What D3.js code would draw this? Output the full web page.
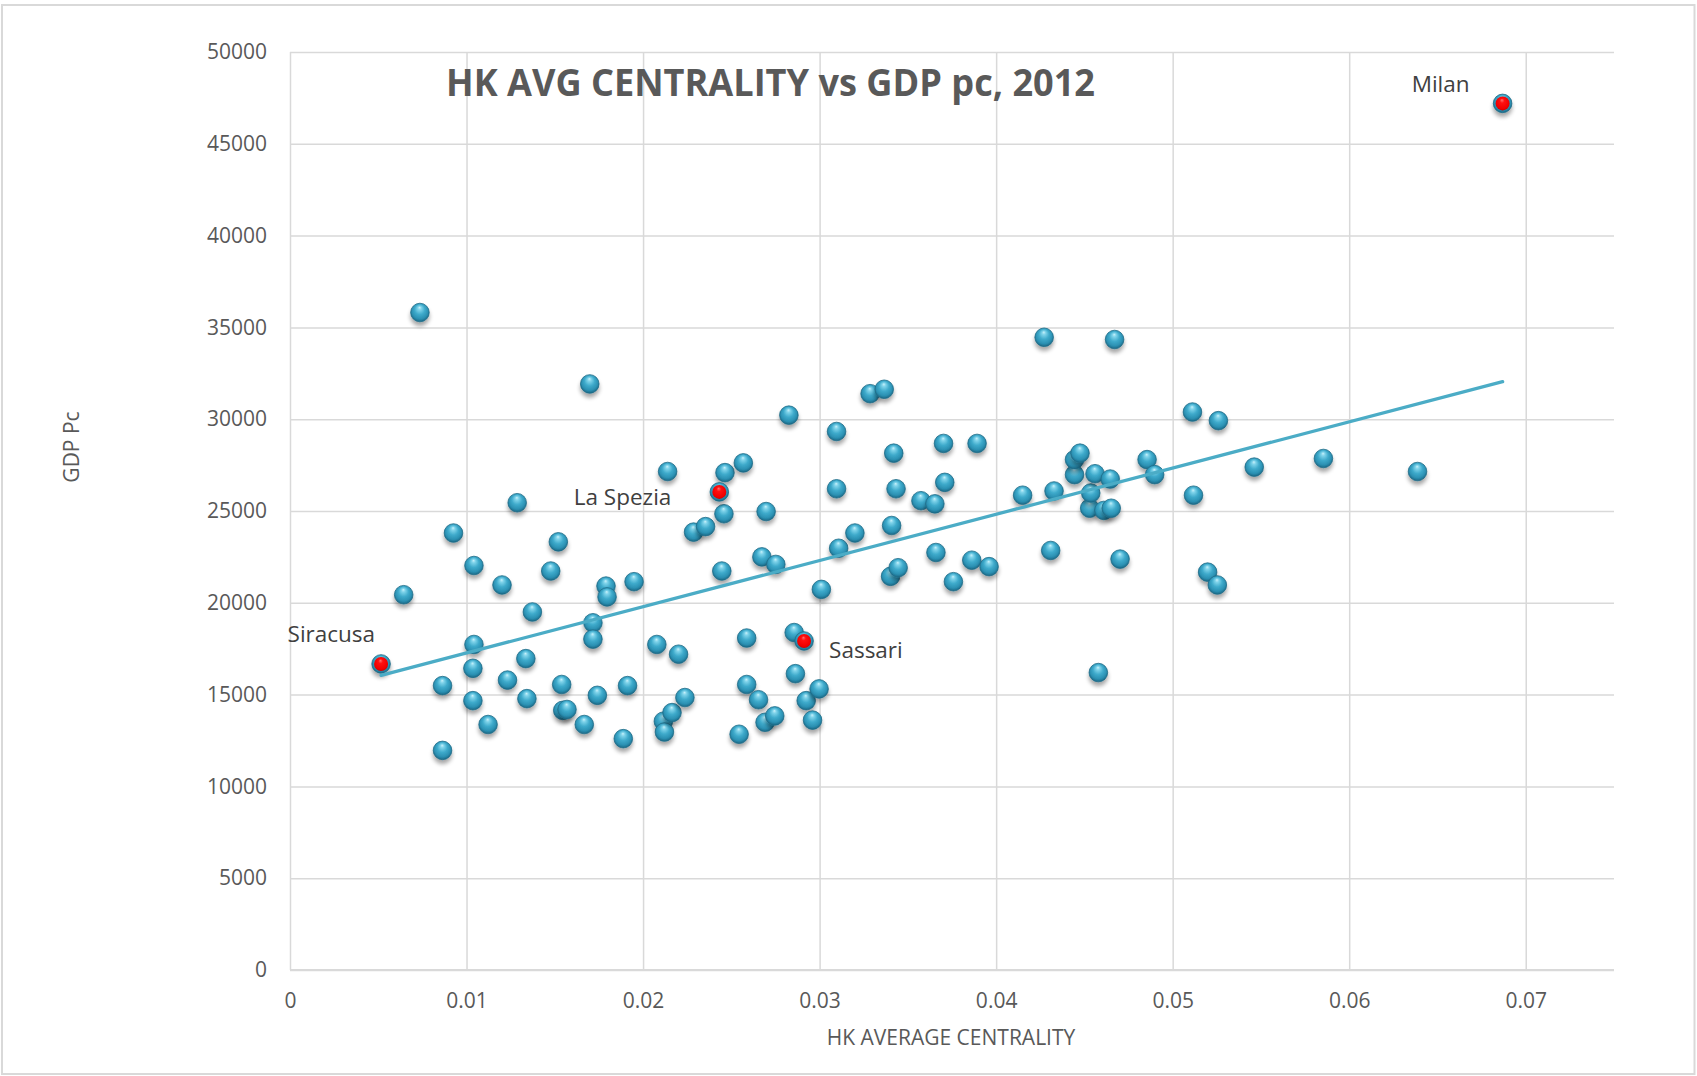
<!DOCTYPE html>
<html>
<head>
<meta charset="utf-8">
<script src="https://cdn.jsdelivr.net/npm/d3@7"></script>
<style>
  body { margin: 0; background: #ffffff; }
  svg { display: block; }
  text { font-family: "Open Sans", "Noto Sans", sans-serif; }
</style>
</head>
<body>
<svg id="chart" width="1697" height="1076"></svg>
<script>
// Provinces: HK average centrality (x) and GDP per capita (y), 2012
const centrality = [
  0.00644, 0.00736, 0.00864, 0.00864, 0.00926, 0.01042, 0.01042, 0.01036, 0.01036, 0.01122,
  0.01201, 0.01232, 0.01287, 0.01336, 0.01342, 0.01373, 0.01477, 0.01520, 0.01539, 0.01545,
  0.01569, 0.01667, 0.01698, 0.01716, 0.01716, 0.01741, 0.01790, 0.01796, 0.01888, 0.01912,
  0.01949, 0.02078, 0.02115, 0.02121, 0.02139, 0.02164, 0.02201, 0.02237, 0.02286, 0.02354,
  0.02446, 0.02458, 0.02464, 0.02544, 0.02568, 0.02587, 0.02587, 0.02654, 0.02673, 0.02691,
  0.02697, 0.02746, 0.02752, 0.02826, 0.02856, 0.02863, 0.02924, 0.02960, 0.02997, 0.03010,
  0.03096, 0.03096, 0.03108, 0.03200, 0.03286, 0.03366, 0.03402, 0.03408, 0.03420, 0.03433,
  0.03445, 0.03574, 0.03653, 0.03659, 0.03702, 0.03709, 0.03758, 0.03862, 0.03892, 0.03960,
  0.04150, 0.04272, 0.04309, 0.04328, 0.04444, 0.04444, 0.04475, 0.04530, 0.04536, 0.04560,
  0.04579, 0.04610, 0.04646, 0.04652, 0.04671, 0.04702, 0.04855, 0.04898, 0.05112, 0.05118,
  0.05198, 0.05253, 0.05259, 0.05462, 0.05854, 0.06387
];
const gdpPc = [
  20440, 35810, 15490, 11960, 23800, 22030, 17730, 16430, 14670, 13370,
  20970, 15790, 25450, 16960, 14780, 19500, 21730, 23320, 15550, 14140,
  14190, 13370, 31920, 18910, 18020, 14960, 20910, 20320, 12600, 15490,
  21150, 17730, 13550, 12960, 27150, 14020, 17200, 14840, 23850, 24150,
  21730, 24850, 27090, 12840, 27620, 18080, 15550, 14720, 22500, 13490,
  24970, 13840, 22090, 30220, 18380, 16140, 14670, 13610, 15310, 20730,
  26210, 29330, 22970, 23800, 31390, 31630, 21440, 24210, 28150, 26210,
  21910, 25560, 25390, 22740, 28680, 26560, 21150, 22320, 28680, 21970,
  25860, 34460, 22850, 26090, 26980, 27800, 28150, 25150, 25980, 27030,
  16200, 25030, 26740, 25150, 34340, 22380, 27800, 26980, 30390, 25860,
  21670, 20970, 29920, 27390, 27860, 27150
];

// Highlighted provinces
const namedCities = ["Siracusa", "La Spezia", "Sassari", "Milan"];
const namedCentrality = [0.00516, 0.02432, 0.02912, 0.06869];
const namedGdpPc = [16670, 26040, 17920, 47200];

const xTicks = [0, 0.01, 0.02, 0.03, 0.04, 0.05, 0.06, 0.07];
const yTicks = [0, 5000, 10000, 15000, 20000, 25000, 30000, 35000, 40000, 45000, 50000];
const xTickLabels = ["0", "0.01", "0.02", "0.03", "0.04", "0.05", "0.06", "0.07"];

const chartTitle = "HK AVG CENTRALITY vs GDP pc, 2012";
const xTitle = "HK AVERAGE CENTRALITY";
const yTitle = "GDP Pc";

// ---- layout ----
const W = 1697, H = 1076;
const plot = { left: 290, right: 1614, top: 52, bottom: 970 };
const gridColor = "#d9d9d9";
const textColor = "#595959";
const accent = "#4bacc6";
const R = 9.3;

const svg = d3.select("#chart");

svg.append("rect").attr("width", W).attr("height", H).attr("fill", "#ffffff");
svg.append("rect")
  .attr("x", 2).attr("y", 5).attr("width", W - 4.5).attr("height", H - 7)
  .attr("fill", "none").attr("stroke", gridColor).attr("stroke-width", 2);

const x = d3.scaleLinear().domain([0, 0.075]).range([plot.left, plot.right]);
const y = d3.scaleLinear().domain([0, 50000]).range([plot.bottom, plot.top]);

// ---- defs: sphere shading, red dot, drop shadow ----
const defs = svg.append("defs");
const sg = defs.append("radialGradient").attr("id", "sphere")
  .attr("cx", "50%").attr("cy", "45%").attr("r", "55%").attr("fx", "48%").attr("fy", "22%");
[[0, "#c9f1fb"], [0.18, "#7fd3ea"], [0.5, "#3eaacb"], [0.8, "#2b90b2"], [1, "#1b6784"]]
  .forEach(([o, c]) => sg.append("stop").attr("offset", o).attr("stop-color", c));

const rg = defs.append("radialGradient").attr("id", "redDot")
  .attr("cx", "50%").attr("cy", "45%").attr("r", "55%").attr("fx", "45%").attr("fy", "25%");
[[0, "#ff7070"], [0.3, "#ff1010"], [0.85, "#f00000"], [1, "#c80000"]]
  .forEach(([o, c]) => rg.append("stop").attr("offset", o).attr("stop-color", c));

const shadow = defs.append("filter").attr("id", "shadow")
  .attr("x", "-60%").attr("y", "-60%").attr("width", "220%").attr("height", "240%");
shadow.append("feGaussianBlur").attr("in", "SourceAlpha").attr("stdDeviation", 2.2).attr("result", "b");
shadow.append("feOffset").attr("in", "b").attr("dx", 0).attr("dy", 4).attr("result", "o");
shadow.append("feComponentTransfer").attr("in", "o").attr("result", "s")
  .append("feFuncA").attr("type", "linear").attr("slope", 0.35);
const merge = shadow.append("feMerge");
merge.append("feMergeNode").attr("in", "s");
merge.append("feMergeNode").attr("in", "SourceGraphic");

// ---- grid + axes ----
const yAxis = d3.axisLeft(y).tickValues(yTicks).tickSize(-(plot.right - plot.left)).tickPadding(23)
  .tickFormat(d => String(d));
const gy = svg.append("g").attr("transform", `translate(${plot.left},0)`).call(yAxis);
gy.select(".domain").remove();
gy.selectAll(".tick line").attr("stroke", gridColor).attr("stroke-width", 1.5);
gy.selectAll(".tick text").attr("fill", textColor).attr("font-size", 21)
  .style("font-family", '"Open Sans", sans-serif');

const xAxis = d3.axisBottom(x).tickValues(xTicks).tickSize(-(plot.bottom - plot.top)).tickPadding(23)
  .tickFormat((d, i) => xTickLabels[i]);
const gx = svg.append("g").attr("transform", `translate(0,${plot.bottom})`).call(xAxis);
gx.select(".domain").remove();
gx.selectAll(".tick line").attr("stroke", gridColor).attr("stroke-width", 1.5);
gx.selectAll(".tick text").attr("fill", textColor).attr("font-size", 21)
  .style("font-family", '"Open Sans", sans-serif');

svg.append("line")
  .attr("x1", plot.left).attr("x2", plot.right)
  .attr("y1", plot.bottom).attr("y2", plot.bottom)
  .attr("stroke", gridColor).attr("stroke-width", 2.2);

// ---- titles ----
svg.append("text")
  .attr("x", 770.5).attr("y", 95.5).attr("text-anchor", "middle")
  .attr("font-size", 37).attr("font-weight", 700).attr("fill", textColor)
  .attr("textLength", 649).attr("lengthAdjust", "spacingAndGlyphs")
  .text(chartTitle);

svg.append("text")
  .attr("x", 951).attr("y", 1045).attr("text-anchor", "middle")
  .attr("font-size", 21).attr("fill", textColor)
  .text(xTitle);

svg.append("text")
  .attr("transform", "translate(79,447) rotate(-90)").attr("text-anchor", "middle")
  .attr("font-size", 21).attr("fill", textColor)
  .text(yTitle);

// ---- points ----
const points = centrality.map((c, i) => ({ x: c, y: gdpPc[i] }));
const named = namedCities.map((n, i) => ({ name: n, x: namedCentrality[i], y: namedGdpPc[i] }));
const all = points.concat(named);

// linear least-squares trend
const mx = d3.mean(all, d => d.x), my = d3.mean(all, d => d.y);
const slope = d3.sum(all, d => (d.x - mx) * (d.y - my)) / d3.sum(all, d => (d.x - mx) ** 2);
const intercept = my - slope * mx;
const [xmin, xmax] = d3.extent(all, d => d.x);

const gPts = svg.append("g");
gPts.selectAll("circle.pt").data(all).join("circle")
  .attr("class", "pt")
  .attr("cx", d => x(d.x)).attr("cy", d => y(d.y)).attr("r", R)
  .attr("fill", "url(#sphere)").attr("stroke", "#1f6c88").attr("stroke-width", 0.8)
  .attr("filter", "url(#shadow)");

svg.append("line")
  .attr("x1", x(xmin)).attr("y1", y(intercept + slope * xmin))
  .attr("x2", x(xmax)).attr("y2", y(intercept + slope * xmax))
  .attr("stroke", accent).attr("stroke-width", 3.3).attr("stroke-linecap", "round");

svg.append("g").selectAll("circle").data(named).join("circle")
  .attr("cx", d => x(d.x)).attr("cy", d => y(d.y)).attr("r", 7)
  .attr("fill", "url(#redDot)");

// labels for highlighted provinces
const labelPlacement = {
  "Siracusa": { dx: -6, dy: -22, anchor: "end" },
  "La Spezia": { dx: -48, dy: 13.5, anchor: "end" },
  "Sassari": { dx: 25, dy: 17, anchor: "start" },
  "Milan": { dx: -33, dy: -11, anchor: "end" }
};
svg.append("g").selectAll("text").data(named).join("text")
  .attr("x", d => x(d.x) + labelPlacement[d.name].dx)
  .attr("y", d => y(d.y) + labelPlacement[d.name].dy)
  .attr("text-anchor", d => labelPlacement[d.name].anchor)
  .attr("font-size", 22.5).attr("fill", "#404040")
  .text(d => d.name);
</script>
</body>
</html>
